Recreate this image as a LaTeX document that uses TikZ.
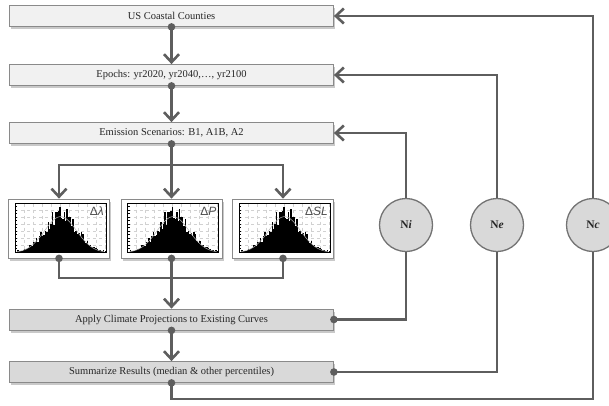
\documentclass[tikz,border=0pt]{standalone}
\usepackage{fontspec}
\setmainfont{Liberation Serif}
\newfontfamily\lblfont{Liberation Sans}
\usetikzlibrary{arrows.meta,shadows,calc}
\definecolor{linec}{HTML}{5E5E5E}
\definecolor{boxlite}{HTML}{F1F1F1}
\definecolor{boxdark}{HTML}{D9D9D9}
\definecolor{boxedge}{HTML}{8A8A8A}

\tikzset{
  softshadow/.style={drop shadow={shadow xshift=1.5pt, shadow yshift=-2.5pt, opacity=0.35, fill=black!60}},
  stepbox/.style={draw=boxedge, line width=0.8pt, fill=boxlite, minimum width=324pt,
    minimum height=21pt, inner sep=0pt, font=\fontsize{10.5}{12}\selectfont, text=black!85, softshadow},
  darkbox/.style={stepbox, fill=boxdark},
  panel/.style={draw=boxedge, line width=0.8pt, fill=white, minimum width=101pt,
    minimum height=59pt, inner sep=0pt, softshadow},
  loopnode/.style={circle, draw=black!55, line width=1.3pt, fill=boxdark, minimum size=53pt,
    inner sep=0pt, font=\fontsize{11.5}{13}\selectfont\bfseries, text=black!85},
  conn/.style={draw=linec, line width=2.6pt},
  arr/.style={conn, -{Straight Barb[length=8pt,width=15pt]}},
  dotmark/.style={fill=linec},
}

% histogram with its axes, drawn inside a panel node (coordinates from its top-left corner)
\newcommand\histplot[2]{%
  \begin{scope}[shift={(#1.north west)}]
    % grid
    \foreach \gx in {16,25,...,97} \draw[black!18, dashed, line width=0.3pt] (\gx,5) -- (\gx,54);
    \foreach \gy in {12,19,...,54} \draw[black!18, dashed, line width=0.3pt] (7,\gy) -- (98,\gy);
    % bars
    \pgfmathsetseed{11}
    \foreach \i in {0,...,59}{
      \pgfmathsetmacro\g{exp(-((\i-30)/11)*((\i-30)/11)/2)}
      \pgfmathsetmacro\hh{max(0.6, 38*\g*(0.72+0.6*rnd) + 1.2*rnd)}
      \fill[black] (9+\i*1.45,54) rectangle ++(1.5,-\hh);
    }
    % fitted curve
    \draw[black!30, line width=0.5pt] plot[domain=9:96, samples=40]
      (\x,{54-36*exp(-((\x-52.5)/16)*((\x-52.5)/16)/2)});
    % axes and ticks
    \draw[black, line width=0.6pt] (7,5) -- (7,54) -- (98,54) -- (98,5) -- cycle;
    \foreach \ty in {8,11.5,...,52} \draw[black, line width=0.4pt] (7,\ty) -- (9,\ty);
    \foreach \tx in {16,25,...,97} \draw[black, line width=0.4pt] (\tx,54) -- (\tx,52.5);
    \node[anchor=north east, inner sep=0pt, font=\lblfont\fontsize{12}{12}\selectfont, text=black!70]
      at (96,8) {#2};
  \end{scope}}

\begin{document}
\begin{tikzpicture}[x=1pt, y=-1pt]
  \useasboundingbox (0,0) rectangle (609,405);
  \fill[white] (0,0) rectangle (609,405);

  % process steps
  \node[stepbox] (b1) at (171.5,16)  {US Coastal Counties};
  \node[stepbox] (b2) at (171.5,75)  {Epochs: yr2020, yr2040,\ldots, yr2100};
  \node[stepbox] (b3) at (171.5,133) {Emission Scenarios: B1, A1B, A2};
  \node[darkbox] (b4) at (171.5,319.5) {Apply Climate Projections to Existing Curves};
  \node[darkbox] (b5) at (171.5,372) {Summarize Results (median \& other percentiles)};

  % projection histograms
  \node[panel] (h1) at (59,228.5) {};
  \node[panel] (h2) at (171.5,228.5) {};
  \node[panel] (h3) at (283,228.5) {};
  \histplot{h1}{Δ\textit{λ}}
  \histplot{h2}{Δ\textit{P}}
  \histplot{h3}{Δ\textit{SL}}

  % loop counters
  \node[loopnode] (ni) at (406,225) {N\textit{i}};
  \node[loopnode] (ne) at (497,225) {N\textit{e}};
  \node[loopnode] (nc) at (593,225) {N\textit{c}};

  % main flow
  \draw[arr] (b1.south) -- (b2.north);
  \draw[arr] (b2.south) -- (b3.north);
  \coordinate (split) at (171.5,165);
  \draw[conn] (b3.south) -- (split);
  \draw[arr] (split) -| (h1.north);
  \draw[arr] (split) -- (h2.north);
  \draw[arr] (split) -| (h3.north);
  \coordinate (merge) at (171.5,278);
  \draw[conn] (h1.south) |- (merge);
  \draw[conn] (h3.south) |- (merge);
  \draw[arr] (h2.south) -- (b4.north);
  \draw[arr] (b4.south) -- (b5.north);

  % loops back to the top
  \draw[conn] (ni.south) |- (b4.east);
  \draw[arr] (ni.north) |- (b3.east);
  \draw[conn] (ne.south) |- (b5.east);
  \draw[arr] (ne.north) |- (b2.east);
  \coordinate (ret) at (593,399);
  \draw[conn] (nc.south) -- (ret) -| (b5.south);
  \draw[arr] (nc.north) |- (b1.east);

  % start dots
  \foreach \p in {b1.south,b2.south,b3.south,b4.south,b5.south,b4.east,b5.east,h1.south,h2.south,h3.south}
    \fill[dotmark] (\p) circle (3.8);
\end{tikzpicture}
\end{document}
